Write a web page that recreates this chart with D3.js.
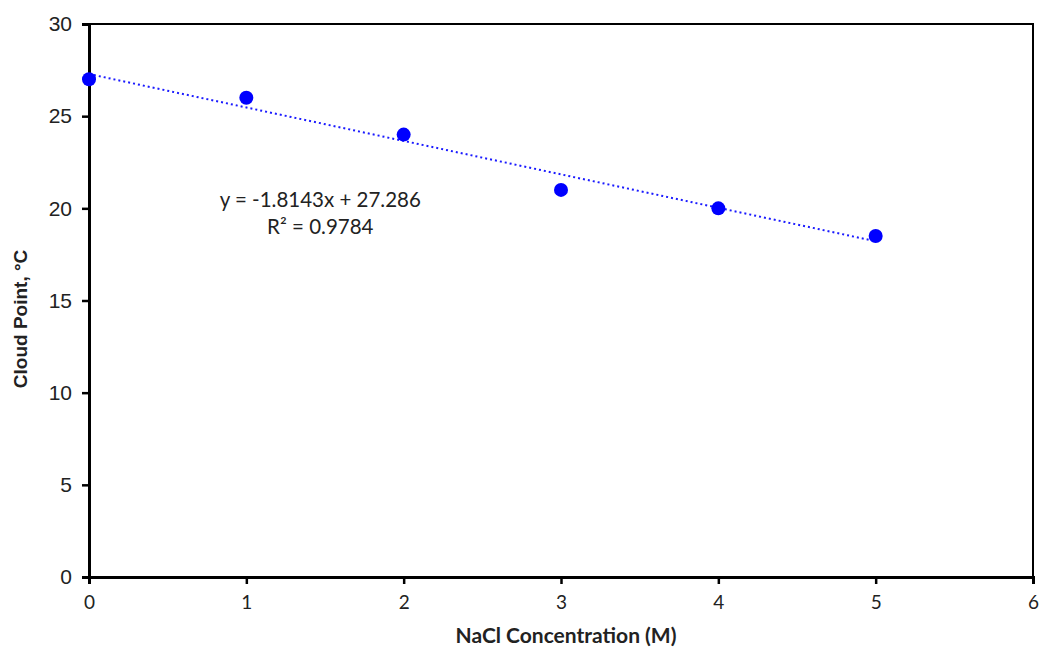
<!DOCTYPE html>
<html>
<head>
<meta charset="utf-8">
<script src="https://cdn.jsdelivr.net/npm/d3@7"></script>
<style>
  body { margin: 0; background: #fff; }
</style>
</head>
<body>
<div id="chart"></div>
<script>
// data
const concentrations = [0, 1, 2, 3, 4, 5];
const cloudPoints = [27, 26, 24, 21, 20, 18.5];
const xTicks = [0, 1, 2, 3, 4, 5, 6];
const yTicks = [0, 5, 10, 15, 20, 25, 30];
const slope = -1.8143, intercept = 27.286;
const equationLines = ["y = -1.8143x + 27.286", "R² = 0.9784"];

const W = 1040, H = 648;
const margin = {top: 24, right: 7, bottom: 71, left: 89},
    width = W - margin.left - margin.right,
    height = H - margin.top - margin.bottom;

const svg = d3.select("#chart")
    .append("svg")
    .attr("width", W)
    .attr("height", H)
    .append("g")
    .attr("transform", `translate(${margin.left},${margin.top})`);

const x = d3.scaleLinear().domain([0, 6]).range([0, width]);
const y = d3.scaleLinear().domain([0, 30]).range([height, 0]);

// frame (top and right)
svg.append("path")
    .attr("d", `M0,0H${width}V${height}`)
    .attr("fill", "none")
    .attr("stroke", "#000")
    .attr("stroke-width", 2);

// Y axis
const yAxis = svg.append("g")
    .call(d3.axisLeft(y).tickValues(yTicks).tickFormat(d3.format("d")).tickSize(7).tickPadding(10));
yAxis.select(".domain").attr("stroke-width", 3);
yAxis.selectAll(".tick line").attr("stroke-width", 2.5);
yAxis.selectAll("text")
    .attr("font-family", "Liberation Sans, Arial, sans-serif")
    .attr("font-size", "21px")
    .attr("fill", "#222");

// X axis
const xAxis = svg.append("g")
    .attr("transform", `translate(0,${height})`)
    .call(d3.axisBottom(x).tickValues(xTicks).tickFormat(d3.format("d")).tickSize(7).tickPadding(12));
xAxis.select(".domain").attr("stroke-width", 3);
xAxis.selectAll(".tick line").attr("stroke-width", 2.5);
xAxis.selectAll("text")
    .attr("font-family", "Lato, Open Sans, sans-serif")
    .attr("font-size", "19px")
    .attr("fill", "#222");

// axis titles
svg.append("text")
    .attr("x", x(3) + 5)
    .attr("y", height + 66)
    .attr("text-anchor", "middle")
    .attr("font-family", "Lato, Open Sans, sans-serif")
    .attr("font-weight", "bold")
    .attr("font-size", "21px")
    .attr("fill", "#222")
    .text("NaCl Concentration (M)");

svg.append("text")
    .attr("transform", `translate(-62,${y(14)}) rotate(-90)`)
    .attr("text-anchor", "middle")
    .attr("font-family", "Liberation Sans, Arial, sans-serif")
    .attr("font-weight", "bold")
    .attr("font-size", "19px")
    .attr("fill", "#222")
    .text("Cloud Point, \u00B0C");

// trend line
svg.append("path")
    .datum([0, 5])
    .attr("fill", "none")
    .attr("stroke", "#1a1aff")
    .attr("stroke-width", 2)
    .attr("stroke-dasharray", "2,3")
    .attr("d", d3.line()
        .x(d => x(d))
        .y(d => y(slope * d + intercept)));

// points
svg.append("g")
    .selectAll("circle")
    .data(concentrations)
    .join("circle")
    .attr("cx", d => x(d))
    .attr("cy", (d, i) => y(cloudPoints[i]))
    .attr("r", 7)
    .attr("fill", "#0000ff");

// equation label
svg.append("g")
    .selectAll("text")
    .data(equationLines)
    .join("text")
    .attr("x", x(1.47))
    .attr("y", (d, i) => y(20.05) + i * 27)
    .attr("text-anchor", "middle")
    .attr("font-family", "Lato, Open Sans, sans-serif")
    .attr("font-size", "20.5px")
    .attr("fill", "#222")
    .text(d => d);
</script>
</body>
</html>
